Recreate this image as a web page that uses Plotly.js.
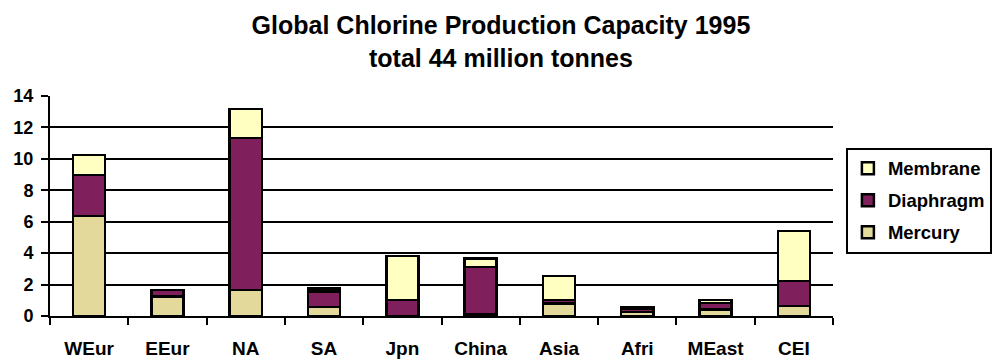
<!DOCTYPE html>
<html>
<head>
<meta charset="utf-8">
<script src="https://cdn.plot.ly/plotly-3.0.1.min.js"></script>
<style>
  html, body { margin: 0; padding: 0; background: #ffffff; }
  #chart { width: 994px; height: 360px; }
</style>
</head>
<body>
<div id="chart"></div>
<script>
// Regions
const regions = ['WEur', 'EEur', 'NA', 'SA', 'Jpn', 'China', 'Asia', 'Afri', 'MEast', 'CEI'];

// Capacity by cell technology, million tonnes
const mercury   = [6.35, 1.23, 1.65, 0.57, 0.00, 0.12, 0.80, 0.25, 0.42, 0.64];
const diaphragm = [2.63, 0.42, 9.68, 1.00, 1.02, 3.00, 0.22, 0.20, 0.40, 1.60];
const membrane  = [1.25, 0.00, 1.84, 0.19, 2.81, 0.55, 1.52, 0.10, 0.20, 3.18];

const yTicks = [0, 2, 4, 6, 8, 10, 12, 14];

const FONT = 'Liberation Sans, Arial, sans-serif';
const outline = { color: '#000000', width: 2.5 };

function series(name, values, color, rank) {
  return {
    type: 'bar',
    name: name,
    x: regions,
    y: values,
    legendgroup: name,
    legendrank: rank,
    marker: { color: color, line: outline },
    hoverinfo: 'x+y+name'
  };
}

// stacked bottom to top; legend lists them top to bottom in reverse
const data = [
  series('Mercury', mercury, '#E3D99B', 3),
  series('Diaphragm', diaphragm, '#7F1F5B', 2),
  series('Membrane', membrane, '#FFFFC2', 1)
];

const layout = {
  width: 994,
  height: 360,
  margin: { l: 50, r: 161, t: 96, b: 44 },
  paper_bgcolor: '#ffffff',
  plot_bgcolor: '#ffffff',
  barmode: 'stack',
  bargap: 0.59,
  font: { family: FONT, color: '#000000' },
  title: {
    text: '<b>Global Chlorine Production Capacity 1995<br>total 44 million tonnes</b>',
    font: { family: FONT, size: 25, color: '#000000' },
    xref: 'container',
    x: 0.504,
    xanchor: 'center',
    yref: 'container',
    y: 0.905,
    yanchor: 'top'
  },
  xaxis: {
    type: 'category',
    categoryorder: 'array',
    categoryarray: regions,
    tickson: 'boundaries',
    ticks: 'outside',
    ticklen: 7,
    tickwidth: 2,
    tickcolor: '#000000',
    showline: true,
    linecolor: '#000000',
    linewidth: 2,
    showgrid: false,
    zeroline: false,
    tickfont: { family: FONT, size: 19, color: '#000000', weight: 'bold' },
    ticklabelstandoff: 14,
    automargin: false,
    fixedrange: true
  },
  // companion axis that draws the inward half of the category boundary ticks
  xaxis2: {
    overlaying: 'x',
    range: [-0.5, regions.length - 0.5],
    tickvals: regions.map((_, i) => i + 0.5),
    ticks: 'inside',
    ticklen: 7,
    tickwidth: 2,
    tickcolor: '#000000',
    showticklabels: false,
    showgrid: false,
    showline: false,
    zeroline: false,
    automargin: false,
    fixedrange: true
  },
  yaxis: {
    range: [0, 14],
    tickvals: yTicks,
    ticktext: yTicks.map(String),
    ticks: 'outside',
    ticklen: 7,
    tickwidth: 2,
    tickcolor: '#000000',
    showline: true,
    linecolor: '#000000',
    linewidth: 2,
    showgrid: true,
    gridcolor: '#000000',
    gridwidth: 2,
    zeroline: false,
    tickfont: { family: FONT, size: 18, color: '#000000', weight: 'bold' },
    ticklabelstandoff: 4,
    automargin: false,
    fixedrange: true
  },
  showlegend: true,
  legend: {
    traceorder: 'grouped',
    tracegroupgap: 5,
    xref: 'container',
    yref: 'container',
    x: 0.851,
    xanchor: 'left',
    y: 0.59,
    yanchor: 'top',
    bgcolor: '#ffffff',
    bordercolor: '#000000',
    borderwidth: 2,
    font: { family: FONT, size: 18.5, color: '#000000', weight: 'bold' }
  }
};

Plotly.newPlot('chart', data, layout, { displayModeBar: false, staticPlot: true });
</script>
</body>
</html>
